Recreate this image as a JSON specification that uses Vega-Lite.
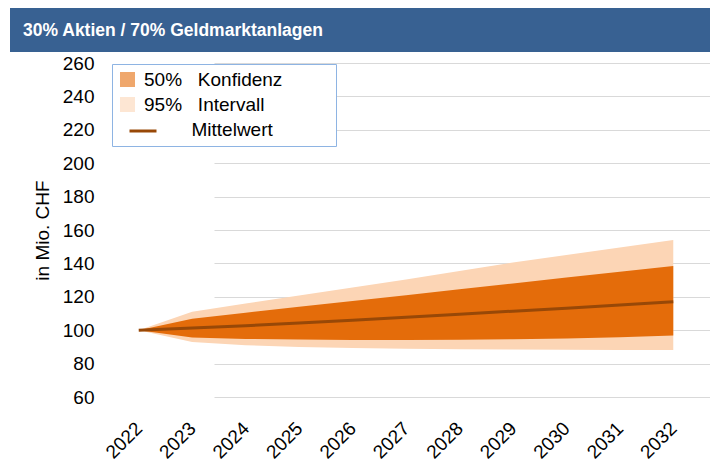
{
  "$schema": "https://vega.github.io/schema/vega-lite/v6.json",
  "background": "white",
  "padding": {"left": 10, "top": 8, "right": 0, "bottom": 0},
  "columns": 1,
  "spacing": 11,
  "bounds": "flush",
  "resolve": {"scale": {"fill": "independent", "stroke": "independent"}, "legend": {"fill": "independent", "stroke": "independent"}},
  "config": {
    "font": "Liberation Sans",
    "view": {"stroke": null},
    "axisY": {
      "offset": -102,
      "domain": false,
      "ticks": false,
      "grid": true,
      "gridColor": "#d9d9d9",
      "gridWidth": 1,
      "tickCount": 20,
      "labelFontSize": 19,
      "labelColor": "black",
      "labelPadding": 18,
      "labelOverlap": false,
      "titleFontSize": 19,
      "titleFontWeight": "normal",
      "titleColor": "black",
      "titlePadding": 10
    }
  },
  "datasets": {
    "bands": [
      {"year": "2022", "lo95": 100, "lo50": 100, "mean": 100, "hi50": 100, "hi95": 100},
      {"year": "2023", "lo95": 93.0, "lo50": 95.6, "mean": 101.3, "hi50": 106.8, "hi95": 111.0},
      {"year": "2024", "lo95": 91.0, "lo50": 94.8, "mean": 102.7, "hi50": 110.5, "hi95": 116.0},
      {"year": "2025", "lo95": 90.0, "lo50": 94.4, "mean": 104.3, "hi50": 114.0, "hi95": 120.8},
      {"year": "2026", "lo95": 89.3, "lo50": 94.2, "mean": 106.0, "hi50": 117.5, "hi95": 125.5},
      {"year": "2027", "lo95": 88.9, "lo50": 94.1, "mean": 107.8, "hi50": 121.0, "hi95": 130.3},
      {"year": "2028", "lo95": 88.6, "lo50": 94.3, "mean": 109.6, "hi50": 124.5, "hi95": 135.5},
      {"year": "2029", "lo95": 88.4, "lo50": 94.6, "mean": 111.4, "hi50": 128.0, "hi95": 140.5},
      {"year": "2030", "lo95": 88.3, "lo50": 95.1, "mean": 113.2, "hi50": 131.5, "hi95": 145.0},
      {"year": "2031", "lo95": 88.2, "lo50": 95.8, "mean": 115.1, "hi50": 135.0, "hi95": 149.5},
      {"year": "2032", "lo95": 88.2, "lo50": 96.8, "mean": 117.0, "hi50": 138.5, "hi95": 154.0}
    ],
    "header": [{"label": "30% Aktien / 70% Geldmarktanlagen", "pos": 0}]
  },
  "concat": [
    {
      "width": 700,
      "height": 44,
      "view": {"fill": "#386192", "stroke": null},
      "data": {"name": "header"},
      "mark": {
        "type": "text",
        "align": "left",
        "baseline": "middle",
        "dx": 13,
        "dy": 1,
        "color": "white",
        "font": "Liberation Sans",
        "fontSize": 17.5,
        "fontWeight": "bold"
      },
      "encoding": {
        "x": {"field": "pos", "type": "quantitative", "scale": {"domain": [0, 1]}, "axis": null},
        "text": {"field": "label"}
      }
    },
    {
      "width": 690,
      "height": 334,
      "data": {"name": "bands"},
      "encoding": {
        "x": {
          "field": "year",
          "type": "ordinal",
          "scale": {"type": "point", "padding": 0.5, "range": [102, 690]},
          "axis": {
            "title": null,
            "labelAngle": -45,
            "labelBaseline": "middle",
            "domain": false,
            "ticks": false,
            "grid": false,
            "labelFontSize": 19,
            "labelColor": "black",
            "labelPadding": 28,
            "labelOverlap": false
          }
        }
      },
      "layer": [
        {
          "mark": {"type": "area"},
          "encoding": {
            "y": {
              "field": "lo95",
              "type": "quantitative",
              "scale": {"domain": [60, 260], "nice": false, "zero": false},
              "axis": {"values": [60, 80, 100, 120, 140, 160, 180, 200, 220, 240, 260], "title": "in Mio. CHF"}
            },
            "y2": {"field": "hi95"},
            "fill": {
              "datum": "95% Intervall",
              "scale": {
                "domain": ["50% Konfidenz", "95% Intervall", "Mittelwert"],
                "range": ["#E46C0A", "#FCD5B5", "transparent"]
              },
              "legend": {
                "title": null,
                "orient": "none",
                "legendX": 102,
                "legendY": 1,
                "padding": 6,
                "strokeColor": "#8EB4E3",
                "fillColor": "white",
                "labelFont": "Liberation Sans",
                "labelFontSize": 19,
                "labelColor": "black",
                "labelLimit": 400,
                "labelOffset": 7,
                "rowPadding": 5,
                "symbolSize": 225,
                "symbolType": "square",
                "symbolOpacity": 0.6,
                "labelExpr": "datum.value === 'Mittelwert' ? '\u200b\u00a0\u00a0\u00a0\u00a0\u00a0\u00a0\u00a0\u00a0\u00a0Mittelwert' : datum.value === '50% Konfidenz' ? '50%\u00a0\u00a0\u00a0Konfidenz\u00a0\u00a0\u00a0\u00a0\u00a0\u00a0\u00a0\u00a0\u00a0\u200b' : '95%\u00a0\u00a0\u00a0Intervall'"
              }
            }
          }
        },
        {
          "mark": {"type": "area"},
          "encoding": {
            "y": {"field": "lo50", "type": "quantitative", "axis": {"values": [60, 80, 100, 120, 140, 160, 180, 200, 220, 240, 260], "title": "in Mio. CHF"}},
            "y2": {"field": "hi50"},
            "fill": {"datum": "50% Konfidenz"}
          }
        },
        {
          "mark": {"type": "line", "strokeWidth": 3},
          "encoding": {
            "y": {"field": "mean", "type": "quantitative", "axis": {"values": [60, 80, 100, 120, 140, 160, 180, 200, 220, 240, 260], "title": "in Mio. CHF"}},
            "stroke": {
              "datum": "Mittelwert",
              "scale": {"domain": ["Mittelwert"], "range": ["#984807"]},
              "legend": {
                "title": null,
                "orient": "none",
                "legendX": 118,
                "legendY": 53,
                "padding": 0,
                "symbolType": "stroke",
                "symbolSize": 729,
                "symbolStrokeWidth": 3,
                "labelExpr": "''",
                "labelFontSize": 19
              }
            }
          }
        }
      ]
    }
  ]
}
